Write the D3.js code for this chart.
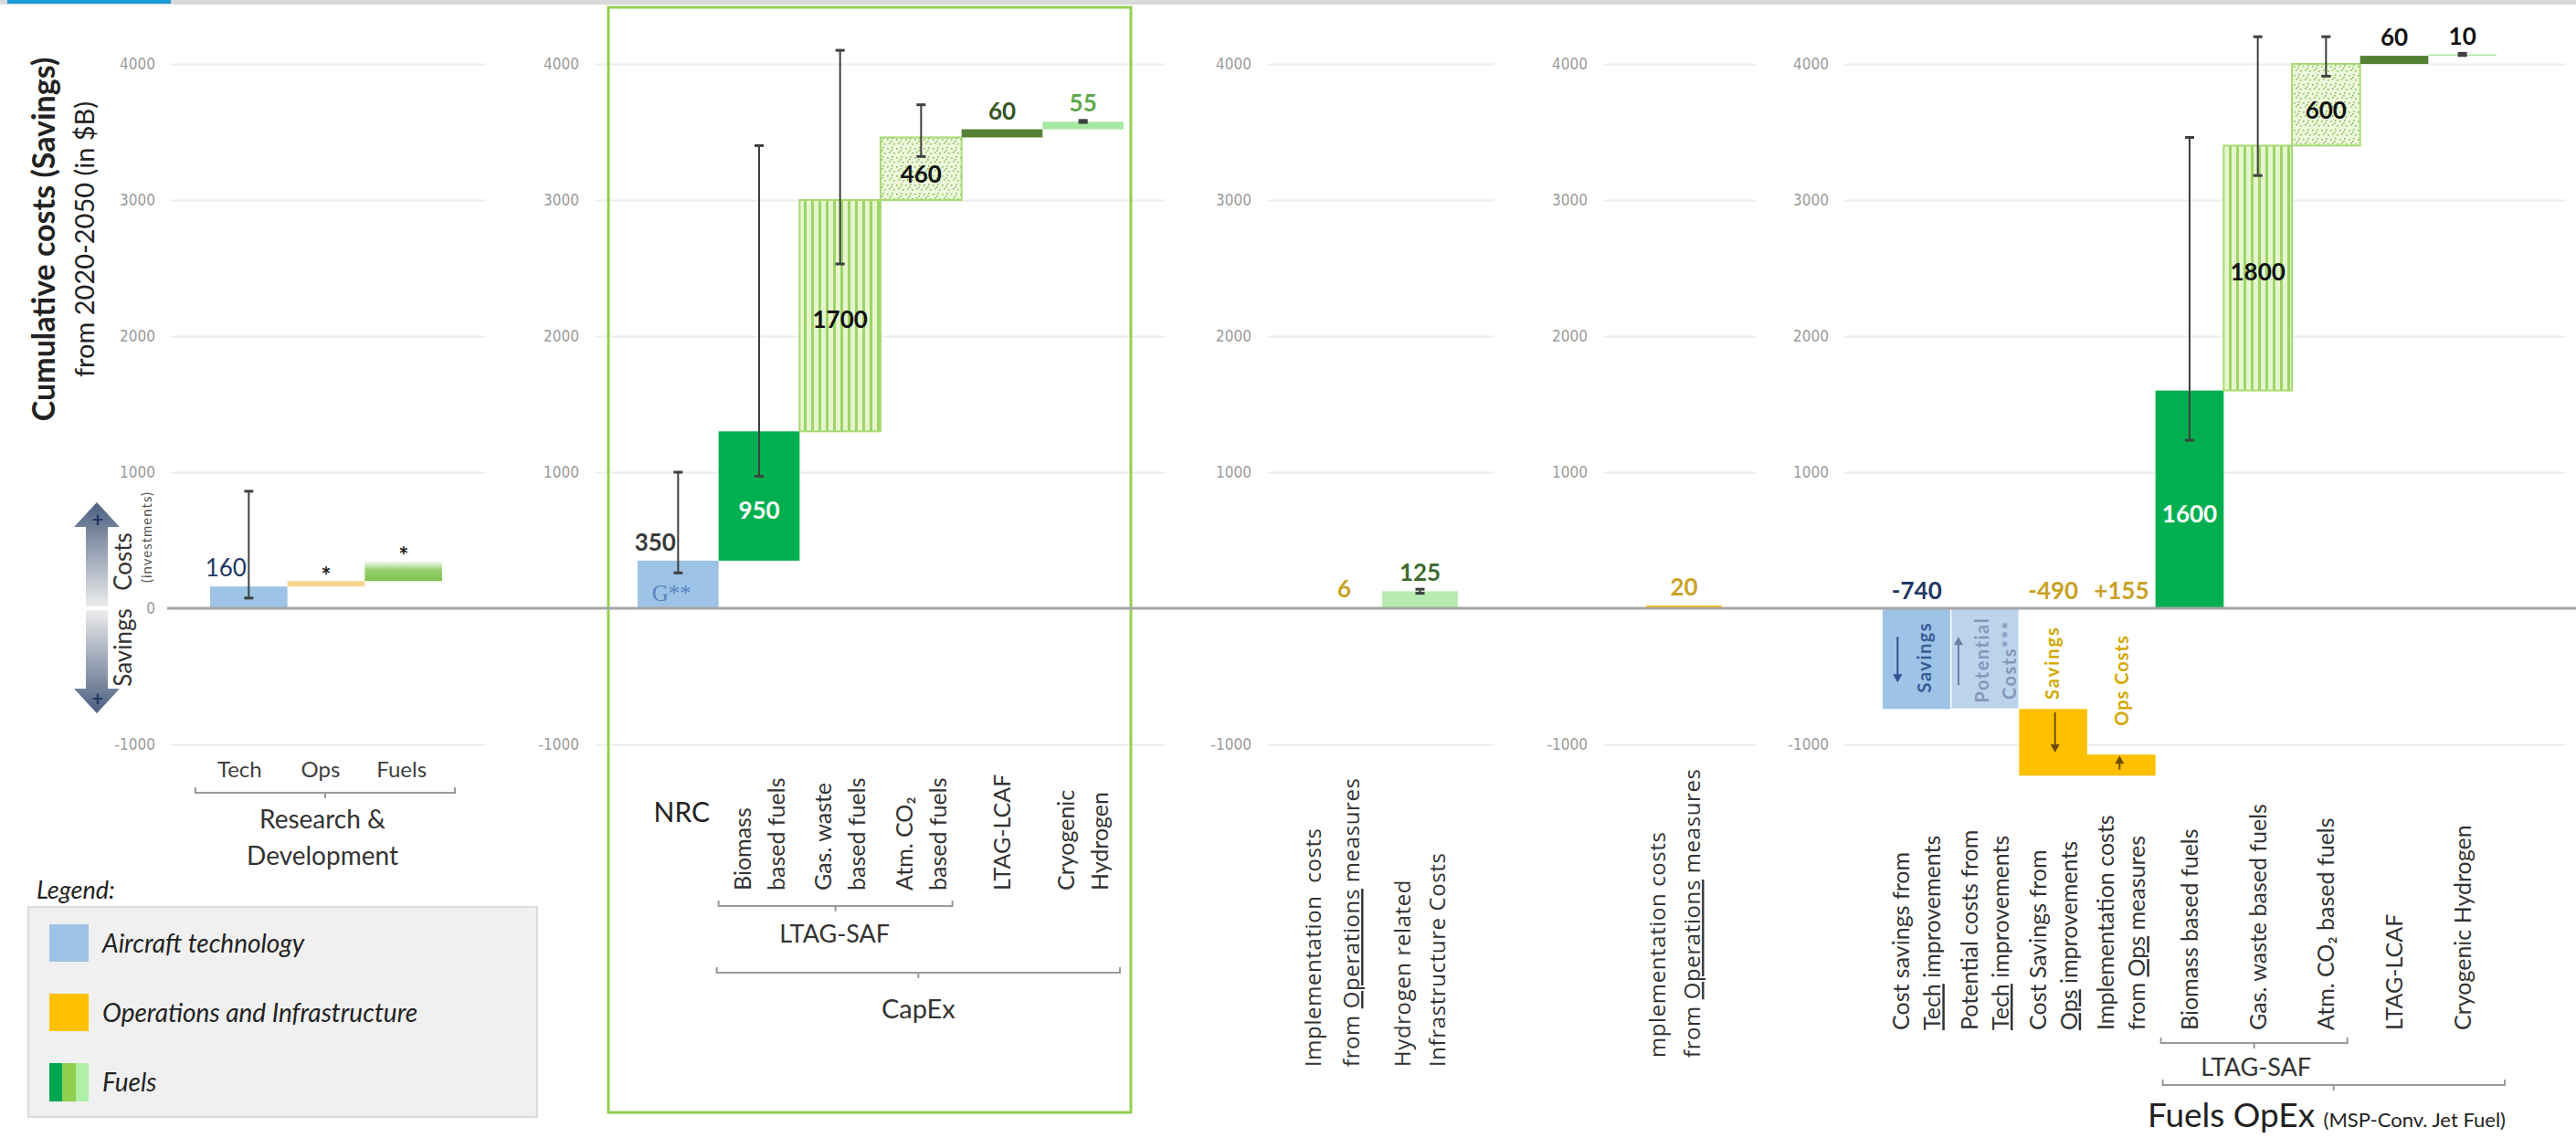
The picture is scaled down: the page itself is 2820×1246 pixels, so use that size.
<!DOCTYPE html>
<html>
<head>
<meta charset="utf-8">
<script src="https://cdn.jsdelivr.net/npm/d3@7"></script>
<style>
html, body { margin: 0; padding: 0; background: #fff; }
svg { display: block; }
text { font-family: Lato, "Open Sans", sans-serif; }
</style>
</head>
<body>
<svg id="svg"></svg>
<script>
// ---- data ----
var tickValues = [4000, 3000, 2000, 1000, 0, -1000];

// Research & Development
var rdCats = ["Tech", "Ops", "Fuels"],
	rdTypes = ["tech", "opsrd", "rdfuel"],
	rdStart = [0, 160, 200],
	rdValues = [160, 40, 150],
	rdLabels = ["160", "*", "*"],
	rdErrors = [[75, 860], null, null];

// CapEx
var capexCats = ["NRC", "Biomass based fuels", "Gas. waste based fuels", "Atm. CO2 based fuels", "LTAG-LCAF", "Cryogenic Hydrogen"],
	capexTypes = ["tech", "bio", "gas", "atm", "lcaf", "h2"],
	capexStart = [0, 350, 1300, 3000, 3460, 3520],
	capexValues = [350, 950, 1700, 460, 60, 55],
	capexLabels = ["350", "950", "1700", "460", "60", "55"],
	capexErrors = [[260, 1000], [970, 3400], [2530, 4100], [3320, 3700], null, [3570, 3585]],
	capexTickLines = [["NRC"], ["Biomass", "based fuels"], ["Gas. waste", "based fuels"], ["Atm. CO\u2082", "based fuels"], ["LTAG-LCAF"], ["Cryogenic", "Hydrogen"]];

// Operations implementation + hydrogen infrastructure
var infraCats = ["Implementation costs from Operations measures", "Hydrogen related Infrastructure Costs"],
	infraTypes = ["ops", "h2infra"],
	infraStart = [0, 0],
	infraValues = [6, 125],
	infraLabels = ["6", "125"],
	infraErrors = [null, [110, 140]],
	infraTickLines = [["Implementation\u00a0\u00a0costs", "from _Operations_ measures"], ["Hydrogen related", "Infrastructure Costs"]];

var opsCats = ["Implementation costs from Operations measures"],
	opsTypes = ["ops"],
	opsStart = [0],
	opsValues = [20],
	opsLabels = ["20"],
	opsErrors = [null],
	opsTickLines = [["mplementation costs", "from _Operations_ measures"]];

// OpEx
var opexCats = ["Cost savings from Tech improvements", "Potential costs from Tech improvements", "Cost Savings from Ops improvements", "Implementation costs from Ops measures", "Biomass based fuels", "Gas. waste based fuels", "Atm. CO2 based fuels", "LTAG-LCAF", "Cryogenic Hydrogen"],
	opexTypes = ["tech", "potential", "ops", "ops", "bio", "gas", "atm", "lcaf", "h2"],
	opexStart = [0, -740, -740, -1230, 0, 1600, 3400, 4000, 4060],
	opexValues = [-740, 740, -490, 155, 1600, 1800, 600, 60, 10],
	opexLabels = ["-740", "", "-490", "+155", "1600", "1800", "600", "60", "10"],
	opexErrors = [null, null, null, null, [1235, 3460], [3180, 4200], [3910, 4200], null, [4062, 4078]],
	opexTickLines = [["Cost savings from", "_Tech_ improvements"], ["Potential costs from", "_Tech_ improvements"], ["Cost Savings from", "_Ops_ improvements"], ["Implementation costs", "from _Ops_ measures"], ["Biomass based fuels"], ["Gas. waste based fuels"], ["Atm. CO\u2082 based fuels"], ["LTAG-LCAF"], ["Cryogenic Hydrogen"]];

var legendItems = ["Aircraft technology", "Operations and Infrastructure", "Fuels"];

// ---- layout ----
var width = 2820,
	height = 1246,
	tickFont = "'Liberation Sans Narrow', 'DejaVu Sans Condensed', sans-serif";

var svg = d3.select("#svg")
	.attr("width", width)
	.attr("height", height);

var y = d3.scaleLinear().domain([-1000, 4000]).range([815, 70]);

var panels = [
	{id: "rd", cats: rdCats, types: rdTypes, start: rdStart, values: rdValues, labels: rdLabels, errors: rdErrors,
		range: [230, 484], grid: [187, 531], tickRight: 170, zeroTick: true},
	{id: "capex", cats: capexCats, types: capexTypes, start: capexStart, values: capexValues, labels: capexLabels, errors: capexErrors,
		range: [698, 1230], grid: [652, 1275], tickRight: 634},
	{id: "infra", cats: infraCats, types: infraTypes, start: infraStart, values: infraValues, labels: infraLabels, errors: infraErrors,
		range: [1430, 1596], grid: [1388, 1636], tickRight: 1370},
	{id: "ops", cats: opsCats, types: opsTypes, start: opsStart, values: opsValues, labels: opsLabels, errors: opsErrors,
		range: [1802, 1885], grid: [1756, 1921], tickRight: 1738},
	{id: "opex", cats: opexCats, types: opexTypes, start: opexStart, values: opexValues, labels: opexLabels, errors: opexErrors,
		range: [2061, 2733], grid: [2020, 2808], tickRight: 2002}
];

panels.forEach(function(p){
	p.x = d3.scaleBand().domain(p.cats).range(p.range).paddingInner(0).paddingOuter(0);
	p.rows = p.cats.map(function(c, i){
		return {cat: c, type: p.types[i], start: p.start[i], end: p.start[i] + p.values[i], label: p.labels[i], err: p.errors[i]};
	});
});

// ---- defs ----
var defs = svg.append("defs");

var stripes = defs.append("pattern").attr("id", "stripes")
	.attr("patternUnits", "userSpaceOnUse").attr("width", 8).attr("height", 8);
stripes.append("rect").attr("width", 8).attr("height", 8).attr("fill", "#e6f6cc");
stripes.append("rect").attr("width", 3).attr("height", 8).attr("fill", "#9ed46a");

var dots = defs.append("pattern").attr("id", "dots")
	.attr("patternUnits", "userSpaceOnUse").attr("width", 10).attr("height", 10);
dots.append("rect").attr("width", 10).attr("height", 10).attr("fill", "#eef8dc");
[[1, 2], [6, 1], [3, 6], [8, 7], [5, 4]].forEach(function(d){
	dots.append("rect").attr("x", d[0]).attr("y", d[1]).attr("width", 1.6).attr("height", 1.6).attr("fill", "#7fbf4e");
});

var rdGrad = defs.append("linearGradient").attr("id", "rdfuelGrad")
	.attr("x1", 0).attr("y1", 1).attr("x2", 0).attr("y2", 0);
rdGrad.append("stop").attr("offset", "0%").attr("stop-color", "#7cc24c");
rdGrad.append("stop").attr("offset", "55%").attr("stop-color", "#9bd174");
rdGrad.append("stop").attr("offset", "100%").attr("stop-color", "#ffffff");

var arrowUp = defs.append("linearGradient").attr("id", "arrowUp")
	.attr("x1", 0).attr("y1", 0).attr("x2", 0).attr("y2", 1);
arrowUp.append("stop").attr("offset", "0%").attr("stop-color", "#4b5f80");
arrowUp.append("stop").attr("offset", "100%").attr("stop-color", "#ececec");
var arrowDown = defs.append("linearGradient").attr("id", "arrowDown")
	.attr("x1", 0).attr("y1", 1).attr("x2", 0).attr("y2", 0);
arrowDown.append("stop").attr("offset", "0%").attr("stop-color", "#4b5f80");
arrowDown.append("stop").attr("offset", "100%").attr("stop-color", "#ececec");

var fills = {tech: "#9dc3e6", potential: "#bcd3ec", ops: "#ffc000", opsrd: "#f8d58c", bio: "#00b050",
	gas: "url(#stripes)", atm: "url(#dots)", lcaf: "#548235", h2: "#a6e8a0", h2infra: "#b6ecb0", rdfuel: "url(#rdfuelGrad)"};

var labelColors = {tech: "#1f3864", ops: "#c9a227", opsrd: "#222", bio: "#ffffff", gas: "#111", atm: "#111",
	lcaf: "#375623", h2: "#5ea84a", h2infra: "#3d6b2f", rdfuel: "#222"};

// ---- top band ----
svg.append("rect").attr("x", 0).attr("y", 0).attr("width", width).attr("height", 5).attr("fill", "#d9d9d9");
svg.append("rect").attr("x", 8).attr("y", 0).attr("width", 179).attr("height", 4).attr("fill", "#1a9ad6");

// ---- grids and tick labels ----
panels.forEach(function(p){
	var ticks = p.zeroTick ? tickValues : tickValues.filter(function(v){ return v !== 0; });
	var axis = d3.axisLeft(y)
		.tickValues(ticks)
		.tickSize(-(p.grid[1] - p.grid[0]))
		.tickPadding(p.grid[0] - p.tickRight)
		.tickFormat(function(d){ return String(d); });
	var g = svg.append("g")
		.attr("transform", "translate(" + p.grid[0] + ",0)")
		.call(axis);
	g.select(".domain").remove();
	g.selectAll(".tick line").attr("stroke", "#ececec").attr("stroke-width", 2);
	g.selectAll(".tick text")
		.attr("fill", "#9a9a9a")
		.style("font-family", tickFont)
		.style("font-size", "17px");
});

// ---- CapEx frame ----
svg.append("rect")
	.attr("x", 666).attr("y", 8).attr("width", 572).attr("height", 1210)
	.attr("fill", "none").attr("stroke", "#92d050").attr("stroke-width", 3);

// ---- bars ----
panels.forEach(function(p){
	var g = svg.append("g").attr("class", "bars-" + p.id);
	g.selectAll("rect")
		.data(p.rows)
		.enter()
		.append("rect")
		.attr("x", function(d){ return p.x(d.cat); })
		.attr("width", p.x.bandwidth())
		.attr("y", function(d){ return y(Math.max(d.start, d.end)); })
		.attr("height", function(d){ return Math.max(1, Math.abs(y(d.start) - y(d.end))); })
		.attr("fill", function(d){ return fills[d.type]; })
		.attr("stroke", function(d){
			if (d.type === "gas" || d.type === "atm") return "#a8da76";
			if (d.type === "potential") return "#ffffff";
			return "none";
		})
		.attr("stroke-width", function(d){ return d.type === "potential" ? 1.5 : 2; });
});

// zero line
svg.append("line")
	.attr("x1", 183).attr("x2", width)
	.attr("y1", y(0)).attr("y2", y(0))
	.attr("stroke", "#a6a6a6").attr("stroke-width", 3);

// ---- error bars ----
panels.forEach(function(p){
	var rows = p.rows.filter(function(d){ return d.err; });
	var g = svg.append("g").attr("class", "err-" + p.id);
	var e = g.selectAll("g")
		.data(rows)
		.enter()
		.append("g")
		.attr("transform", function(d){ return "translate(" + (p.x(d.cat) + p.x.bandwidth() / 2) + ",0)"; });
	e.append("line")
		.attr("y1", function(d){ return y(d.err[0]); })
		.attr("y2", function(d){ return y(d.err[1]); })
		.attr("stroke", "#3f3f3f").attr("stroke-width", 2);
	e.append("line")
		.attr("x1", -5).attr("x2", 5)
		.attr("y1", function(d){ return y(d.err[0]); })
		.attr("y2", function(d){ return y(d.err[0]); })
		.attr("stroke", "#3f3f3f").attr("stroke-width", 3);
	e.append("line")
		.attr("x1", -5).attr("x2", 5)
		.attr("y1", function(d){ return y(d.err[1]); })
		.attr("y2", function(d){ return y(d.err[1]); })
		.attr("stroke", "#3f3f3f").attr("stroke-width", 3);
});

// ---- value labels ----
var insideTypes = {bio: 16, gas: 4, atm: 6};
panels.forEach(function(p){
	var g = svg.append("g").attr("class", "labels-" + p.id);
	g.selectAll("text")
		.data(p.rows.filter(function(d){ return d.label; }))
		.enter()
		.append("text")
		.attr("text-anchor", "middle")
		.style("font-size", "26px")
		.style("font-weight", function(d){ return p.id === "rd" && d.type === "tech" ? 400 : 700; })
		.attr("fill", function(d){
			if (p.id === "opex" && (d.type === "lcaf" || d.type === "h2")) return "#111";
			if (p.id === "capex" && d.type === "tech") return "#3a3a3a";
			return labelColors[d.type];
		})
		.attr("x", function(d){
			var cx = p.x(d.cat) + p.x.bandwidth() / 2;
			if (d.type === "tech" && d.err) cx -= 25;
			return cx;
		})
		.attr("y", function(d){
			var top = y(Math.max(d.start, d.end));
			if (insideTypes[d.type] !== undefined) return (y(d.start) + y(d.end)) / 2 + insideTypes[d.type] + 9;
			if (d.end < 0 || d.start < 0) return y(0) - 10;
			if (d.label === "*") return top + 4;
			return top - 11;
		})
		.text(function(d){ return d.label; });
});

// G** note inside NRC bar
var capex = panels[1];
svg.append("text")
	.attr("x", capex.x("NRC") + capex.x.bandwidth() / 2 - 7)
	.attr("y", y(0) - 8)
	.attr("text-anchor", "middle")
	.style("font-family", "'Liberation Serif', 'DejaVu Serif', serif")
	.style("font-size", "25px")
	.attr("fill", "#5a84c0")
	.text("G**");

// ---- helpers for text ----
function addRich(t, line){
	line.split("_").forEach(function(part, k){
		if (!part) return;
		var ts = t.append("tspan").text(part);
		if (k % 2 === 1) ts.style("text-decoration", "underline");
	});
}

function rotatedLabel(parent, cx, bottom, lines, opts){
	var g = parent.append("g").attr("transform", "translate(" + cx + "," + bottom + ") rotate(-90)");
	var n = lines.length;
	lines.forEach(function(line, i){
		var t = g.append("text")
			.attr("x", 0)
			.attr("y", (i - (n - 1) / 2) * opts.gap)
			.attr("dy", "0.36em")
			.attr("text-anchor", opts.anchor || "start")
			.style("font-size", opts.size + "px")
			.style("font-weight", opts.weight || 400)
			.attr("fill", opts.color || "#333");
		if (opts.font) t.style("font-family", opts.font);
		if (opts.spacing) t.style("letter-spacing", opts.spacing + "px");
		addRich(t, line);
	});
	return g;
}

function bracket(x1, x2, yy){
	var cx = (x1 + x2) / 2;
	svg.append("path")
		.attr("d", "M" + x1 + "," + (yy - 6) + "L" + x1 + "," + yy + "L" + x2 + "," + yy + "L" + x2 + "," + (yy - 6) +
			"M" + cx + "," + yy + "L" + cx + "," + (yy + 6))
		.attr("fill", "none").attr("stroke", "#9a9a9a").attr("stroke-width", 2);
}

function centerOf(p, cat){ return p.x(cat) + p.x.bandwidth() / 2; }

var xl = svg.append("g").attr("class", "xlabels");

// R&D labels
var rd = panels[0];
rdCats.forEach(function(c, i){
	xl.append("text")
		.attr("x", centerOf(rd, c) - 10 + i * 4)
		.attr("y", 851)
		.attr("text-anchor", "middle")
		.style("font-size", "24px")
		.attr("fill", "#404040")
		.text(c);
});
bracket(rd.range[0] - 16, rd.range[1] + 14, 868);
["Research &", "Development"].forEach(function(t, i){
	xl.append("text")
		.attr("x", (rd.range[0] + rd.range[1]) / 2 - 4)
		.attr("y", 907 + i * 40)
		.attr("text-anchor", "middle")
		.style("font-size", "28px")
		.attr("fill", "#333")
		.text(t);
});

// CapEx labels
capexCats.forEach(function(c, i){
	if (i === 0) {
		xl.append("text")
			.attr("x", centerOf(capex, c) + 4)
			.attr("y", 900)
			.attr("text-anchor", "middle")
			.style("font-size", "30px")
			.attr("fill", "#222")
			.text(capexTickLines[i][0]);
	} else {
		rotatedLabel(xl, centerOf(capex, c), 975, capexTickLines[i], {size: 25, gap: 37});
	}
});
bracket(capex.x(capexCats[1]), capex.x(capexCats[3]) + capex.x.bandwidth() - 10, 992);
xl.append("text")
	.attr("x", (capex.x(capexCats[1]) + capex.x(capexCats[3]) + capex.x.bandwidth()) / 2 - 6)
	.attr("y", 1032).attr("text-anchor", "middle")
	.style("font-size", "27px").attr("fill", "#333")
	.text("LTAG-SAF");
bracket(capex.x(capexCats[1]) - 2, capex.range[1] - 4, 1065);
xl.append("text")
	.attr("x", (capex.x(capexCats[1]) + capex.range[1]) / 2 - 3)
	.attr("y", 1115).attr("text-anchor", "middle")
	.style("font-size", "29px").attr("fill", "#333")
	.text("CapEx");

// infra + ops labels
var infra = panels[2], ops = panels[3];
infraCats.forEach(function(c, i){
	rotatedLabel(xl, centerOf(infra, c) - (i === 0 ? 13 : 0), 1168, infraTickLines[i],
		{size: 24, gap: i === 0 ? 42 : 38, font: "'Open Sans', sans-serif", spacing: 0.6});
});
opsCats.forEach(function(c, i){
	rotatedLabel(xl, centerOf(ops, c) - 10, 1158, opsTickLines[i],
		{size: 24, gap: 38, font: "'Open Sans', sans-serif", spacing: 0.6});
});

// OpEx labels
var opex = panels[4];
opexCats.forEach(function(c, i){
	rotatedLabel(xl, centerOf(opex, c), 1128, opexTickLines[i], {size: 25, gap: 34});
});
bracket(opex.x(opexCats[4]) + 6, opex.x(opexCats[6]) + opex.x.bandwidth() - 14, 1142);
xl.append("text")
	.attr("x", (opex.x(opexCats[4]) + opex.x(opexCats[6]) + opex.x.bandwidth()) / 2 - 2)
	.attr("y", 1178).attr("text-anchor", "middle")
	.style("font-size", "27px").attr("fill", "#333")
	.text("LTAG-SAF");
bracket(opex.x(opexCats[4]) + 8, opex.range[1] + 9, 1188);
var fo = xl.append("text")
	.attr("x", opex.range[1] + 10)
	.attr("y", 1234).attr("text-anchor", "end")
	.attr("fill", "#222");
fo.append("tspan").style("font-size", "37px").text("Fuels OpEx ");
fo.append("tspan").style("font-size", "22px").text("(MSP-Conv. Jet Fuel)");

// ---- OpEx in-bar notes ----
function arrow(x, y1, y2, color){
	var dir = y2 > y1 ? 1 : -1;
	svg.append("line").attr("x1", x).attr("x2", x).attr("y1", y1).attr("y2", y2 - dir * 6)
		.attr("stroke", color).attr("stroke-width", 2);
	svg.append("path")
		.attr("d", "M" + (x - 5) + "," + (y2 - dir * 9) + "L" + x + "," + y2 + "L" + (x + 5) + "," + (y2 - dir * 9) + "Z")
		.attr("fill", color);
}
var notes = svg.append("g");
var cTech = centerOf(opex, opexCats[0]),
	cPot = centerOf(opex, opexCats[1]),
	cOpsS = centerOf(opex, opexCats[2]),
	cOpsC = centerOf(opex, opexCats[3]);
rotatedLabel(notes, cTech + 8, y(-360), ["Savings"], {size: 20, gap: 0, anchor: "middle", weight: 700, color: "#3a5a95", spacing: 1.5});
arrow(cTech - 21, y(-210), y(-545), "#2f4f8f");
rotatedLabel(notes, cPot + 12, y(-380), ["Potential", "Costs***"], {size: 20, gap: 30, anchor: "middle", weight: 700, color: "#8597b8", spacing: 1.5});
arrow(cPot - 29, y(-565), y(-210), "#6c7fa3");
rotatedLabel(notes, cOpsS - 1, y(-400), ["Savings"], {size: 20, gap: 0, anchor: "middle", weight: 700, color: "#d4a800", spacing: 2});
arrow(cOpsS + 2, y(-765), y(-1060), "#6b4f00");
rotatedLabel(notes, cOpsC, y(-530), ["Ops Costs"], {size: 20, gap: 0, anchor: "middle", weight: 700, color: "#d4a800", spacing: 1});
arrow(cOpsC - 2, y(-1185), y(-1082), "#6b4f00");

// ---- y axis title and cost / savings arrow ----
svg.append("text")
	.attr("transform", "translate(48," + 262 + ") rotate(-90)")
	.attr("text-anchor", "middle").attr("dy", "0.36em")
	.style("font-size", "34px").style("font-weight", 700).attr("fill", "#222")
	.text("Cumulative costs (Savings)");
svg.append("text")
	.attr("transform", "translate(93," + 262 + ") rotate(-90)")
	.attr("text-anchor", "middle").attr("dy", "0.36em")
	.style("font-size", "29px").attr("fill", "#222")
	.text("from 2020-2050 (in $B)");

var y0 = y(0);
svg.append("path")
	.attr("d", "M106," + (y0 - 116) + "L131," + (y0 - 89) + "L118," + (y0 - 89) + "L118," + (y0 - 2) +
		"L94," + (y0 - 2) + "L94," + (y0 - 89) + "L81," + (y0 - 89) + "Z")
	.attr("fill", "url(#arrowUp)");
svg.append("path")
	.attr("d", "M106," + (y0 + 115) + "L131," + (y0 + 88) + "L118," + (y0 + 88) + "L118," + (y0 + 2) +
		"L94," + (y0 + 2) + "L94," + (y0 + 88) + "L81," + (y0 + 88) + "Z")
	.attr("fill", "url(#arrowDown)");
[y0 - 97, y0 + 99].forEach(function(py){
	svg.append("text").attr("x", 107).attr("y", py).attr("dy", "0.36em")
		.attr("text-anchor", "middle").style("font-size", "22px").style("font-weight", 700)
		.attr("fill", "#1f3864").text("+");
});
svg.append("text")
	.attr("transform", "translate(135," + (y0 - 51) + ") rotate(-90)")
	.attr("text-anchor", "middle").attr("dy", "0.36em")
	.style("font-size", "26px").attr("fill", "#333").text("Costs");
svg.append("text")
	.attr("transform", "translate(135," + (y0 + 43) + ") rotate(-90)")
	.attr("text-anchor", "middle").attr("dy", "0.36em")
	.style("font-size", "26px").attr("fill", "#333").text("Savings");
svg.append("text")
	.attr("transform", "translate(161," + (y0 - 78) + ") rotate(-90)")
	.attr("text-anchor", "middle").attr("dy", "0.36em")
	.style("font-size", "15px").style("letter-spacing", "1px").attr("fill", "#555").text("(investments)");

// ---- legend ----
svg.append("text")
	.attr("x", 40).attr("y", 984)
	.style("font-size", "27px").style("font-style", "italic").attr("fill", "#222")
	.text("Legend:");
svg.append("rect")
	.attr("x", 31).attr("y", 993).attr("width", 557).attr("height", 230)
	.attr("fill", "#f0f0f0").attr("stroke", "#dcdcdc").attr("stroke-width", 2);

var legend = svg.append("g").attr("class", "legend");
var legendRows = legend.selectAll("g")
	.data(legendItems)
	.enter()
	.append("g")
	.attr("transform", function(d, i){ return "translate(54," + (1012 + i * 76) + ")"; });
legendRows.each(function(d, i){
	var g = d3.select(this);
	if (i === 2) {
		g.append("rect").attr("width", 14).attr("height", 42).attr("fill", "#00a651");
		g.append("rect").attr("x", 14).attr("width", 15).attr("height", 42).attr("fill", "#8fd14f");
		g.append("rect").attr("x", 29).attr("width", 14).attr("height", 42).attr("fill", "#aef0a6");
	} else {
		g.append("rect").attr("width", 43).attr("height", 41).attr("fill", i === 0 ? "#9dc3e6" : "#ffc000");
	}
});
legendRows.append("text")
	.attr("x", 58).attr("y", 21).attr("dy", "0.36em")
	.style("font-size", "28px").style("font-style", "italic").attr("fill", "#222")
	.text(function(d){ return d; });
</script>
</body>
</html>
